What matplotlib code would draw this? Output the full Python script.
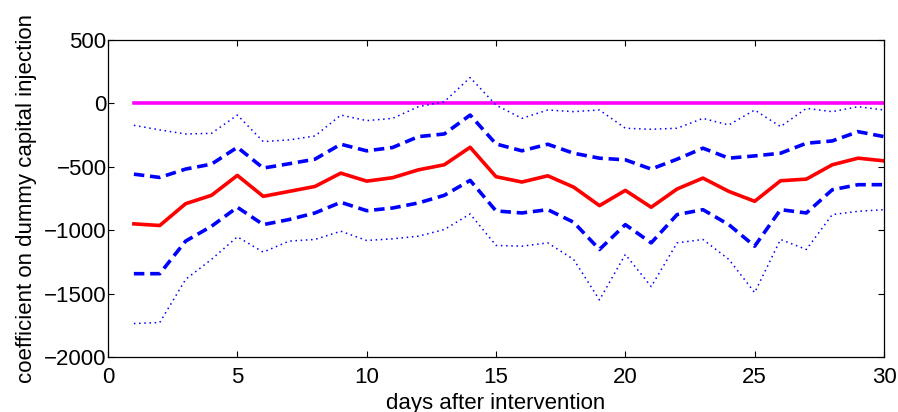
import numpy as np
import matplotlib.pyplot as plt

plt.rcParams['font.family'] = ['Liberation Sans', 'DejaVu Sans']

days = np.arange(1, 31)

coef = [-950, -963, -791, -725, -568, -733, -694, -655, -550, -613,
        -586, -524, -484, -346, -578, -620, -571, -660, -806, -686,
        -819, -675, -589, -694, -772, -610, -597, -484, -432, -453]

upper_1se = [-558, -584, -518, -479, -346, -510, -476, -440, -322, -374,
             -348, -262, -241, -92, -320, -374, -322, -393, -432, -445,
             -518, -440, -353, -432, -414, -393, -314, -296, -223, -262]

lower_1se = [-1343, -1343, -1086, -969, -819, -956, -916, -864, -780, -846,
             -825, -785, -725, -607, -848, -864, -838, -937, -1152, -956,
             -1100, -877, -838, -956, -1126, -838, -864, -681, -641, -641]

upper_2se = [-173, -209, -241, -236, -92, -301, -288, -257, -92, -136,
             -118, -26, 13, 204, -13, -118, -52, -65, -52, -196,
             -204, -196, -118, -170, -52, -183, -39, -65, -26, -52]

lower_2se = [-1736, -1728, -1388, -1230, -1052, -1173, -1086, -1073, -1008, -1081,
             -1068, -1047, -995, -872, -1120, -1126, -1100, -1230, -1550, -1191,
             -1445, -1100, -1073, -1230, -1492, -1073, -1152, -877, -851, -838]

zero = np.zeros(len(days))

fig = plt.figure(figsize=(8.98, 4.12), dpi=100)
ax = fig.add_axes([0.1203, 0.1335, 0.8641, 0.7694])

ax.plot(days, zero, color='#ff00ff', lw=2.6)
ax.plot(days, upper_2se, color='blue', lw=1.1, ls=(0, (1, 2.4)))
ax.plot(days, lower_2se, color='blue', lw=1.1, ls=(0, (1, 2.4)))
ax.plot(days, upper_1se, color='blue', lw=2.6, ls=(0, (2.9, 1.6)))
ax.plot(days, lower_1se, color='blue', lw=2.6, ls=(0, (2.9, 1.6)))
ax.plot(days, coef, color='red', lw=2.6)

ax.set_xlim(0, 30)
ax.set_ylim(-2000, 500)
ax.set_xticks(np.arange(0, 31, 5))
ax.set_yticks(np.arange(-2000, 501, 500))
ax.set_yticklabels(['\u22122000', '\u22121500', '\u22121000', '\u2212500', '0', '500'])
ax.tick_params(direction='in', length=4, width=0.8, labelsize=16,
               top=True, right=True, pad=1)
ax.tick_params(axis='x', pad=7.5)
for s in ax.spines.values():
    s.set_linewidth(0.9)

ax.set_xlabel('days after intervention', fontsize=16, labelpad=3)
ax.set_ylabel('coefficient on dummy capital injection', fontsize=16, labelpad=5)

fig.savefig('out.png', dpi=100)
